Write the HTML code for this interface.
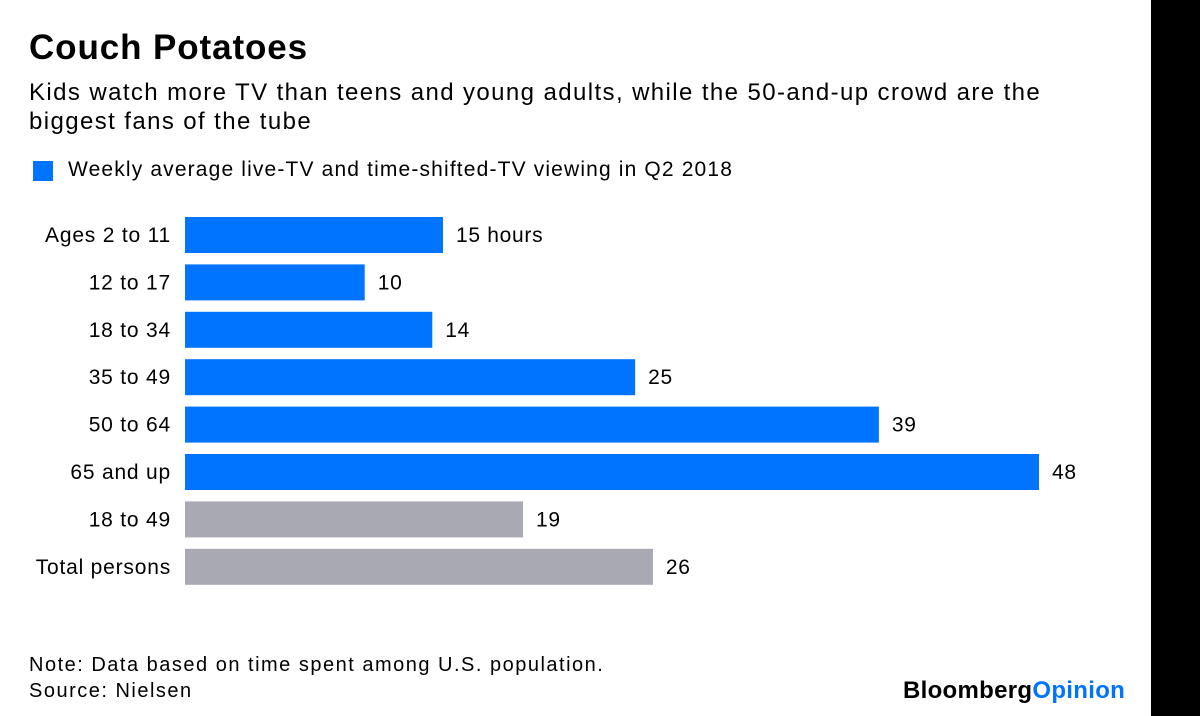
<!DOCTYPE html>
<html><head><meta charset="utf-8"><style>
body{margin:0;width:1200px;height:716px;background:#fff;font-family:"Liberation Sans",sans-serif;position:relative;overflow:hidden}
.t{position:absolute;white-space:nowrap}
</style></head><body>
<div style="position:absolute;left:1151px;top:0;width:49px;height:716px;background:#000"></div>
<div class="t" style="left:29px;top:28px;font-size:35px;font-weight:bold;letter-spacing:0.9px">Couch Potatoes</div>
<div class="t" style="left:29px;top:78px;font-size:24px;line-height:29px;letter-spacing:1.4px">Kids watch more TV than teens and young adults, while the 50-and-up crowd are the<br>biggest fans of the tube</div>
<div style="position:absolute;left:33px;top:161px;width:20px;height:20px;background:#0073ff"></div>
<div class="t" style="left:68px;top:158px;font-size:21px;letter-spacing:1.15px">Weekly average live-TV and time-shifted-TV viewing in Q2 2018</div>
<svg id="chart" width="1150" height="620" style="position:absolute;left:0;top:0"></svg>
<div class="t" style="left:29px;top:652px;font-size:20px;line-height:26px;letter-spacing:1.5px">Note: Data based on time spent among U.S. population.<br>Source: Nielsen</div>
<div class="t" style="left:903px;top:677px;font-size:24px;font-weight:bold;letter-spacing:0.3px">Bloomberg<span style="color:#0073ff">Opinion</span></div>
<script>
const categories=["Ages 2 to 11","12 to 17","18 to 34","35 to 49","50 to 64","65 and up","18 to 49","Total persons"];
const values=[14.5,10.1,13.9,25.3,39,48,19,26.3];
const labels=["15 hours","10","14","25","39","48","19","26"];
const isTotal=[false,false,false,false,false,false,true,true];
const svg=document.getElementById('chart');
const NS='http://www.w3.org/2000/svg';
const x0=185, scale=(1039-185)/48;
const xs=v=>x0+v*scale;
const yc=i=>235+i*47.4;
categories.forEach((c,i)=>{
  const r=document.createElementNS(NS,'rect');
  r.setAttribute('x',x0);r.setAttribute('y',yc(i)-18);
  r.setAttribute('width',xs(values[i])-x0);r.setAttribute('height',36);
  r.setAttribute('fill',isTotal[i]?'#a9a9b3':'#0073ff');
  
  
  svg.appendChild(r);
  const t=document.createElementNS(NS,'text');
  t.setAttribute('x',171);t.setAttribute('y',yc(i)+7);t.setAttribute('text-anchor','end');
  t.setAttribute('font-size','21');t.setAttribute('font-family','Liberation Sans, sans-serif');
  t.setAttribute('letter-spacing','0.8');
  t.textContent=c;
  
  
  svg.appendChild(t);
  const v=document.createElementNS(NS,'text');
  v.setAttribute('x',xs(values[i])+13);v.setAttribute('y',yc(i)+7);
  v.setAttribute('font-size','21');v.setAttribute('font-family','Liberation Sans, sans-serif');
  v.setAttribute('letter-spacing','0.7');
  v.textContent=labels[i];
  
  
  svg.appendChild(v);
});
</script>
</body></html>
